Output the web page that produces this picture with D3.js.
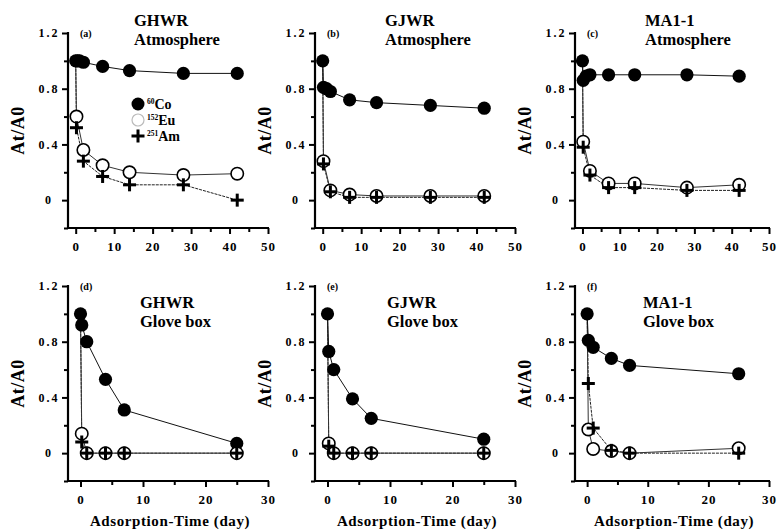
<!DOCTYPE html>
<html><head><meta charset="utf-8">
<script src="https://cdn.jsdelivr.net/npm/d3@7"></script>
<style>
html,body{margin:0;padding:0;background:#fff;}
svg text{font-family:"Liberation Serif","Times New Roman",serif;font-weight:bold;fill:#000;}
</style></head>
<body><svg id="chart" width="777" height="530"></svg>
<script>
// ---- data ----
const panelLabels = ["(a)","(b)","(c)","(d)","(e)","(f)"];
const sampleNames = ["GHWR","GJWR","MA1-1","GHWR","GJWR","MA1-1"];
const conditions = ["Atmosphere","Atmosphere","Atmosphere","Glove box","Glove box","Glove box"];
const seriesNames = ["Co","Eu","Am"];
const seriesMass = ["60","152","251"];
const xTicksTop = [0,10,20,30,40,50];
const xTicksBottom = [0,10,20,30];
const yTicks = [0,0.4,0.8,1.2];
const yTickLabels = ["0","0.4","0.8","1.2"];

// [day, At/A0]
const coA = [[0,1.0],[0.5,1.0],[1,1.0],[2,0.99],[7,0.96],[14,0.93],[28,0.91],[42,0.91]];
const euA = [[0,1.0],[0.2,0.6],[2,0.36],[7,0.25],[14,0.2],[28,0.18],[42,0.19]];
const amA = [[0,1.0],[0.2,0.52],[2,0.28],[7,0.17],[14,0.11],[28,0.11],[42,0.0]];

const coB = [[0,1.0],[0.2,0.81],[1,0.8],[2,0.78],[7,0.72],[14,0.7],[28,0.68],[42,0.66]];
const euB = [[0,1.0],[0.2,0.28],[2,0.07],[7,0.04],[14,0.03],[28,0.03],[42,0.03]];
const amB = [[0,1.0],[0.2,0.26],[2,0.06],[7,0.02],[14,0.02],[28,0.02],[42,0.02]];

const coC = [[0,1.0],[0.2,0.86],[1,0.89],[2,0.9],[7,0.9],[14,0.9],[28,0.9],[42,0.89]];
const euC = [[0,1.0],[0.2,0.42],[2,0.21],[7,0.12],[14,0.12],[28,0.09],[42,0.11]];
const amC = [[0,1.0],[0.2,0.38],[2,0.18],[7,0.09],[14,0.09],[28,0.07],[42,0.07]];

const coD = [[0,1.0],[0.2,0.92],[1,0.8],[4,0.53],[7,0.31],[25,0.07]];
const euD = [[0,1.0],[0.2,0.14],[1,0.0],[4,0.0],[7,0.0],[25,0.0]];
const amD = [[0,1.0],[0.2,0.08],[1,0.0],[4,0.0],[7,0.0],[25,0.0]];

const coE = [[0,1.0],[0.2,0.73],[1,0.6],[4,0.39],[7,0.25],[25,0.1]];
const euE = [[0,1.0],[0.2,0.07],[1,0.0],[4,0.0],[7,0.0],[25,0.0]];
const amE = [[0,1.0],[0.2,0.05],[1,0.0],[4,0.0],[7,0.0],[25,0.0]];

const coF = [[0,1.0],[0.2,0.81],[1,0.76],[4,0.68],[7,0.63],[25,0.57]];
const euF = [[0,1.0],[0.2,0.17],[1,0.03],[4,0.015],[7,0.0],[25,0.035]];
const amF = [[0,1.0],[0.2,0.5],[1,0.18],[4,0.02],[7,0.0],[25,0.0]];

const panelSeries = [[coA,euA,amA],[coB,euB,amB],[coC,euC,amC],[coD,euD,amD],[coE,euE,amE],[coF,euF,amF]];

// ---- layout ----
const colLeft = [68,315,575];
const colW = [200,200,194];
const rowTop = [33,286];
const plotH = 195;
const titleDx = [66,70,70,72,72,68];

const svg = d3.select("#chart");

panelSeries.forEach((series,i)=>{
  const r = Math.floor(i/3), c = i%3;
  const left = colLeft[c], top = rowTop[r], plotW = colW[c];
  const isTop = r===0;
  const x = d3.scaleLinear().domain(isTop?[-2,50]:[-2,30]).range([left,left+plotW]);
  const y = d3.scaleLinear().domain([-0.2,1.2]).range([top+plotH,top]);
  const g = svg.append("g");

  // x axis
  const xMajor = isTop?xTicksTop:xTicksBottom;
  const xMinor = xMajor.slice(0,-1).map(v=>v+5);
  const xa = g.append("g").attr("transform",`translate(0,${top+plotH})`);
  xa.call(d3.axisBottom(x).tickValues(xMajor).tickSize(6).tickPadding(8).tickFormat(d3.format("d")));
  xa.append("g").call(d3.axisBottom(x).tickValues(xMinor).tickSize(4).tickFormat(""));
  xa.selectAll(".domain").remove();
  xa.append("line").attr("x1",left-1).attr("x2",left+plotW+1).attr("stroke","#000").attr("stroke-width",2.2);
  xa.selectAll(".tick line").attr("stroke","#000").attr("stroke-width",2);
  xa.selectAll(".tick text").attr("font-size",13).attr("font-family","'Liberation Serif',serif").attr("font-weight","bold").attr("letter-spacing",1);

  // y axis
  const ya = g.append("g").attr("transform",`translate(${left},0)`);
  ya.call(d3.axisLeft(y).tickValues(yTicks).tickSize(6).tickPadding(10).tickFormat((d,k)=>yTickLabels[k]));
  ya.append("g").call(d3.axisLeft(y).tickValues([-0.2,0.2,0.6,1.0]).tickSize(4).tickFormat(""));
  ya.selectAll(".domain").remove();
  ya.append("line").attr("y1",y(1.2)-1).attr("y2",y(-0.2)+1).attr("stroke","#000").attr("stroke-width",2.2);
  ya.selectAll(".tick line").attr("stroke","#000").attr("stroke-width",2);
  ya.selectAll(".tick text").attr("font-size",12).attr("text-anchor","middle").attr("x",-19)
    .attr("font-family","'Liberation Serif',serif").attr("font-weight","bold").attr("letter-spacing",2);

  // y title
  g.append("text").attr("transform",`translate(${left-44},${(y(1.2)+y(-0.2))/2}) rotate(-90)`)
    .attr("text-anchor","middle").attr("font-size",18).attr("letter-spacing",0.5).text("At/A0");

  // x title
  if(!isTop){
    g.append("text").attr("x",left+plotW/2+2).attr("y",526).attr("text-anchor","middle")
      .attr("font-size",15).attr("letter-spacing",0.6).text("Adsorption-Time (day)");
  }

  // panel label
  g.append("text").attr("x",left+12).attr("y",top+4).attr("font-size",10).text(panelLabels[i]);
  // titles
  g.append("text").attr("x",left+titleDx[i]).attr("y",top+(isTop?-7:22)).attr("font-size",16.5).text(sampleNames[i]);
  g.append("text").attr("x",left+titleDx[i]).attr("y",top+(isTop?12:41)).attr("font-size",16.5).text(conditions[i]);

  const line = d3.line().x(d=>x(d[0])).y(d=>y(d[1]));
  // lines
  g.append("path").datum(series[2]).attr("d",line).attr("fill","none").attr("stroke","#222").attr("stroke-width",1).attr("stroke-dasharray","3,1");
  g.append("path").datum(series[1]).attr("d",line).attr("fill","none").attr("stroke","#333").attr("stroke-width",1);
  g.append("path").datum(series[0]).attr("d",line).attr("fill","none").attr("stroke","#111").attr("stroke-width",1);

  // markers
  g.append("g").selectAll("circle").data(series[0]).join("circle")
    .attr("cx",d=>x(d[0])).attr("cy",d=>y(d[1])).attr("r",6.6).attr("fill","#000");
  g.append("g").selectAll("circle").data(series[1].slice(1)).join("circle")
    .attr("cx",d=>x(d[0])).attr("cy",d=>y(d[1])).attr("r",6.2).attr("fill","#fff").attr("stroke","#000").attr("stroke-width",1.6);
  const plus = g.append("g").selectAll("g").data(series[2].slice(1)).join("g")
    .attr("transform",d=>`translate(${x(d[0])},${y(d[1])})`);
  plus.append("rect").attr("x",-6.5).attr("y",-1.5).attr("width",13).attr("height",3).attr("fill","#000");
  plus.append("rect").attr("x",-1.5).attr("y",-6.5).attr("width",3).attr("height",13).attr("fill","#000");
});

// legend in panel (a)
const legX = 138, legY = [104,120,136];
const lg = svg.append("g");
lg.append("circle").attr("cx",legX).attr("cy",legY[0]).attr("r",6.5).attr("fill","#000");
lg.append("circle").attr("cx",legX).attr("cy",legY[1]).attr("r",6).attr("fill","#fff").attr("stroke","#bbb").attr("stroke-width",1.2);
lg.append("rect").attr("x",legX-6.5).attr("y",legY[2]-1.5).attr("width",13).attr("height",3).attr("fill","#000");
lg.append("rect").attr("x",legX-1.5).attr("y",legY[2]-6.5).attr("width",3).attr("height",13).attr("fill","#000");
seriesNames.forEach((n,k)=>{
  const t = lg.append("text").attr("x",legX+9).attr("y",legY[k]+5).attr("font-size",14);
  t.append("tspan").attr("font-size",7.5).attr("dy",-5).text(seriesMass[k]);
  t.append("tspan").attr("dy",5).text(n);
});
</script></body></html>
